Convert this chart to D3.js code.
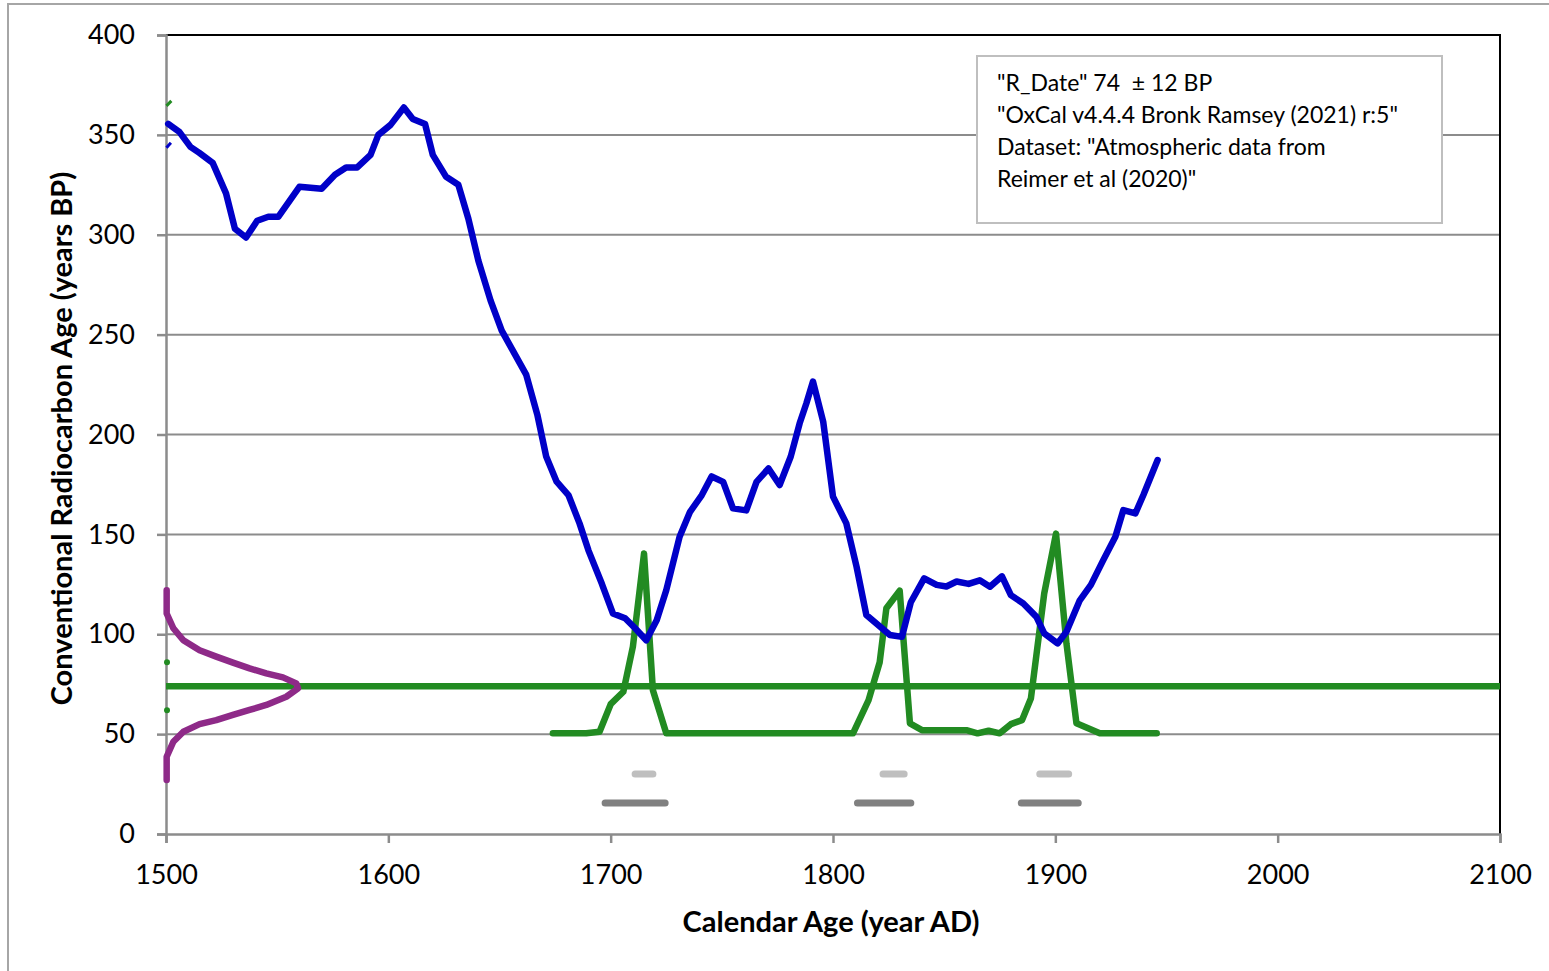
<!DOCTYPE html>
<html>
<head>
<meta charset="utf-8">
<script src="https://cdn.jsdelivr.net/npm/d3@7"></script>
<style>
  html, body { margin: 0; padding: 0; background: #fff; }
  svg { display: block; }
</style>
</head>
<body>
<svg id="chart" width="1549" height="971"></svg>
<script>
// Calibration curve (calendar year AD, radiocarbon age BP)
const curveYears = [1501, 1506, 1511, 1515, 1521, 1527, 1531, 1536, 1541, 1546, 1550.5, 1560, 1570, 1576, 1581, 1586, 1592, 1595.5, 1601, 1607, 1611, 1616.5, 1620, 1626, 1631.5, 1636, 1640.5, 1646, 1651, 1656, 1662, 1667, 1671, 1675.7, 1681, 1686, 1690, 1696, 1701, 1706.5, 1711, 1716, 1720.7, 1725, 1731, 1735.7, 1741, 1745.4, 1750.6, 1755, 1761, 1765.6, 1771, 1776, 1781, 1785, 1788, 1791, 1795.6, 1800, 1806, 1810.6, 1815, 1825.6, 1831, 1835, 1841, 1846.6, 1851, 1855.6, 1861, 1866, 1870.6, 1876, 1880, 1885.6, 1891.5, 1895, 1901, 1905, 1911, 1916, 1921.5, 1927, 1930.6, 1936, 1939.6, 1946];
const curveAges = [355.5, 351.5, 344, 341, 336, 320.7, 303, 298.6, 307, 309, 309, 324, 323, 330, 333.7, 333.7, 340, 350, 355, 363.7, 358, 355.5, 340, 329, 325, 308, 287, 267, 252, 242, 230, 210, 189, 176.4, 169.7, 155.5, 142, 125.4, 110.4, 108, 103, 97, 107, 122, 148.8, 161.3, 169.7, 179, 176.3, 163, 162, 176.3, 183, 174.7, 189, 205.6, 215.5, 226.5, 206.4, 168.9, 155.5, 133.8, 109.6, 99.6, 98.7, 116, 128, 124.7, 123.9, 126.4, 125.2, 127, 123.8, 129, 119.6, 115.4, 108.7, 100.4, 95.4, 101.2, 117, 124.7, 137, 148.8, 162.2, 160.5, 169.7, 187.2];

// Calibrated probability distribution, drawn on a baseline of 50 BP
const probYears = [1674, 1689, 1695, 1700, 1705.7, 1710, 1715, 1719, 1725, 1809, 1816, 1821, 1824, 1830, 1834.6, 1840, 1860, 1865, 1870, 1875, 1880, 1885, 1889, 1895, 1900.3, 1905, 1909.5, 1920, 1945.6];
const probValues = [50.4, 50.4, 51.2, 65, 71.2, 93.8, 140.4, 72, 50.4, 50.4, 67, 86, 113, 121.8, 55.4, 52, 52, 50.4, 51.7, 50.4, 55, 57, 67.8, 120.4, 150.4, 95.4, 55.4, 50.4, 50.4];

// Measured date: 74 ± 12 BP
const rDate = 74;
const rDateError = 12;

// Radiocarbon date distribution drawn against the age axis
const distYears = [1500.3, 1500.3, 1503.3, 1507.8, 1515.1, 1522.6, 1530.1, 1537.6, 1545.1, 1552.6, 1558.6, 1559.4, 1554.1, 1545.1, 1537.6, 1530.1, 1522.6, 1515.1, 1507.8, 1503.3, 1500.3, 1500.3];
const distAges = [122, 110.4, 103, 97, 92, 88.8, 85.8, 82.9, 80.4, 78.4, 75.4, 72.9, 68.7, 64.6, 62.1, 59.6, 57, 55, 51.2, 46.2, 38.7, 27];

// Calibrated ranges: 68.2% (light) and 95.4% (dark)
const range68 = [[1711, 1719], [1822.5, 1832], [1893, 1906]];
const range95 = [[1697.5, 1724.5], [1811, 1835], [1884.7, 1910.3]];
const range68Level = 30;
const range95Level = 15.5;

const xTicks = [1500, 1600, 1700, 1800, 1900, 2000, 2100];
const yTicks = [0, 50, 100, 150, 200, 250, 300, 350, 400];

const infoLines = [
  "\"R_Date\" 74  \u00b1 12 BP",
  "\"OxCal v4.4.4 Bronk Ramsey (2021) r:5\"",
  "Dataset: \"Atmospheric data from",
  "Reimer et al (2020)\""
];

const svg = d3.select("#chart");
const font = "Lato, 'Liberation Sans', sans-serif";

const x = d3.scaleLinear().domain([1500, 2100]).range([166, 1500]);
const y = d3.scaleLinear().domain([0, 400]).range([834, 35]);

// Outer chart frame
svg.append("rect")
  .attr("x", 8).attr("y", 4).attr("width", 1600).attr("height", 1000)
  .attr("fill", "none").attr("stroke", "#a6a6a6").attr("stroke-width", 2);

// Horizontal gridlines
svg.append("g").selectAll("line")
  .data(yTicks.filter(d => d > 0 && d < 400))
  .join("line")
  .attr("x1", x(1500)).attr("x2", x(2100))
  .attr("y1", d => y(d)).attr("y2", d => y(d))
  .attr("stroke", "#8c8c8c").attr("stroke-width", 2);

// Top and right plot borders
svg.append("path")
  .attr("d", `M${x(1500)},${y(400)}H${x(2100)}V${y(0)}`)
  .attr("fill", "none").attr("stroke", "#000").attr("stroke-width", 2);

// Axes
const xAxis = svg.append("g").attr("transform", `translate(0,${y(0)})`)
  .call(d3.axisBottom(x).tickValues(xTicks).tickSize(9).tickPadding(22).tickFormat(d3.format("d")));
const yAxis = svg.append("g").attr("transform", `translate(${x(1500)},0)`)
  .call(d3.axisLeft(y).tickValues(yTicks).tickSize(9).tickPadding(22));
[xAxis, yAxis].forEach(g => {
  g.select(".domain").attr("stroke", "#8c8c8c").attr("stroke-width", 2.5);
  g.selectAll(".tick line").attr("stroke", "#8c8c8c").attr("stroke-width", 2.5);
  g.selectAll(".tick text").attr("fill", "#000")
    .style("font-family", font).style("font-size", "27px");
});
xAxis.selectAll(".tick text").attr("dy", "0.71em");

// Axis titles
svg.append("text")
  .attr("x", 831).attr("y", 932)
  .attr("text-anchor", "middle")
  .style("font-family", font).style("font-size", "29px").style("font-weight", "bold")
  .text("Calendar Age (year AD)");
svg.append("text")
  .attr("transform", `translate(72,${(172 + 705) / 2}) rotate(-90)`)
  .attr("text-anchor", "middle")
  .style("font-family", font).style("font-size", "29px").style("font-weight", "bold")
  .text("Conventional Radiocarbon Age (years BP)");

const line = d3.line().x(d => x(d[0])).y(d => y(d[1]));

// Calibrated ranges
const rangeGroup = svg.append("g").attr("stroke-linecap", "round");
rangeGroup.selectAll("line.r95").data(range95).join("line")
  .attr("class", "r95")
  .attr("x1", d => x(d[0])).attr("x2", d => x(d[1]))
  .attr("y1", y(range95Level)).attr("y2", y(range95Level))
  .attr("stroke", "#808080").attr("stroke-width", 7);
rangeGroup.selectAll("line.r68").data(range68).join("line")
  .attr("class", "r68")
  .attr("x1", d => x(d[0])).attr("x2", d => x(d[1]))
  .attr("y1", y(range68Level)).attr("y2", y(range68Level))
  .attr("stroke", "#bfbfbf").attr("stroke-width", 7);

// Measured date line
svg.append("line")
  .attr("x1", x(1500)).attr("x2", x(2100))
  .attr("y1", y(rDate)).attr("y2", y(rDate))
  .attr("stroke", "#228b22").attr("stroke-width", 6.5);

// Error limits of the measured date, sitting on the age axis
svg.append("g").selectAll("circle")
  .data([rDate - rDateError, rDate + rDateError])
  .join("circle")
  .attr("cx", x(1500) + 1).attr("cy", d => y(d)).attr("r", 3)
  .attr("fill", "#228b22");

// Calibrated probability distribution
svg.append("path")
  .datum(probYears.map((d, i) => [d, probValues[i]]))
  .attr("d", line)
  .attr("fill", "none").attr("stroke", "#228b22").attr("stroke-width", 6.5)
  .attr("stroke-linejoin", "round").attr("stroke-linecap", "round");

// Radiocarbon date distribution
svg.append("path")
  .datum(distYears.map((d, i) => [d, distAges[i]]))
  .attr("d", line)
  .attr("fill", "none").attr("stroke", "#8e2a88").attr("stroke-width", 6.5)
  .attr("stroke-linejoin", "round").attr("stroke-linecap", "round");

// Calibration curve
svg.append("path")
  .datum(curveYears.map((d, i) => [d, curveAges[i]]))
  .attr("d", line)
  .attr("fill", "none").attr("stroke", "#0000c8").attr("stroke-width", 6.5)
  .attr("stroke-linejoin", "round").attr("stroke-linecap", "round");

// Clipped ends of the upper curve envelopes at the left edge
const edgeStubs = [
  { pts: [[1500.2, 364.5], [1502.4, 367]], color: "#228b22" },
  { pts: [[1500.2, 343.5], [1502.2, 346]], color: "#0000c8" }
];
svg.append("g").selectAll("path").data(edgeStubs).join("path")
  .attr("d", d => line(d.pts))
  .attr("fill", "none").attr("stroke", d => d.color).attr("stroke-width", 3);

// Information box
const box = svg.append("g");
box.append("rect")
  .attr("x", 977).attr("y", 56).attr("width", 465).attr("height", 167)
  .attr("fill", "#fff").attr("stroke", "#bfbfbf").attr("stroke-width", 2);
box.selectAll("text").data(infoLines).join("text")
  .attr("x", 997).attr("y", (d, i) => 91 + i * 32)
  .style("font-family", font).style("font-size", "23px")
  .style("white-space", "pre")
  .attr("fill", "#000")
  .text(d => d);
</script>
</body>
</html>
